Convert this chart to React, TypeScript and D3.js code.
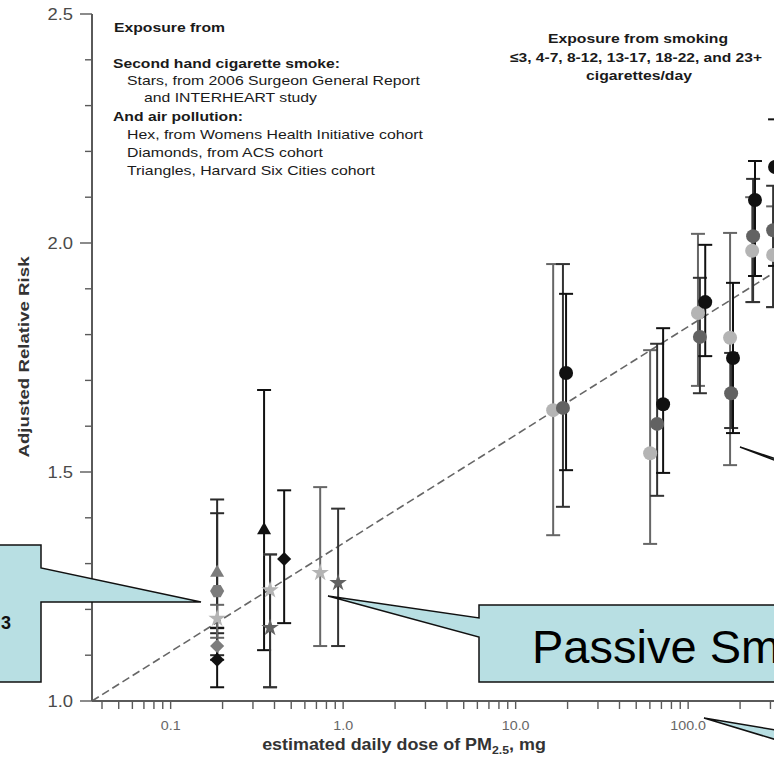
import React from 'react';
import * as d3 from 'd3';

// ---------------- data ----------------
const yTickValues = [1.0, 1.5, 2.0, 2.5];
const yTickLabels = ['1.0', '1.5', '2.0', '2.5'];
const xTickValues = [0.1, 1, 10, 100];
const xTickLabels = ['0.1', '1.0', '10.0', '100.0'];

// dashed fit line (endpoints)
const fitDose = [0.035, 1000];
const fitRR = [1.0, 2.054];

// active smoking (circles); study: black / dark / light
const smokeDose = [16.5, 18.8, 19.6, 60.2, 66.1, 71.6, 114, 117, 125.6, 175, 177.5, 182, 235, 238, 244, 311, 311, 319];
const smokeRR = [1.635, 1.64, 1.716, 1.541, 1.605, 1.648, 1.847, 1.795, 1.871, 1.793, 1.672, 1.749, 1.983, 2.015, 2.094, 1.974, 2.028, 2.166];
const smokeLo = [1.362, 1.424, 1.504, 1.343, 1.448, 1.498, 1.688, 1.672, 1.753, 1.515, 1.596, 1.585, 1.871, 1.871, 1.928, 1.86, 1.86, 1.95];
const smokeHi = [1.954, 1.954, 1.889, 1.766, 1.78, 1.814, 2.02, 1.924, 1.996, 2.022, 1.76, 1.913, 2.1, 2.14, 2.179, 2.08, 2.125, 2.27];
const smokeStudy = ['light', 'dark', 'black', 'light', 'dark', 'black', 'light', 'dark', 'black', 'light', 'dark', 'black', 'light', 'dark', 'black', 'light', 'dark', 'black'];

// second hand smoke (stars)
const starDose = [0.186, 0.377, 0.377, 0.736, 0.935];
const starRR = [1.18, 1.242, 1.16, 1.28, 1.258];
const starLo = [1.138, 1.03, 1.03, 1.12, 1.12];
const starHi = [1.21, 1.32, 1.32, 1.467, 1.42];
const starStudy = ['light', 'light', 'dark', 'light', 'dark'];

// air pollution: hex (WHI)
const hexDose = [0.186];
const hexRR = [1.24];
const hexLo = [1.09];
const hexHi = [1.41];
const hexStudy = ['mid'];

// air pollution: diamonds (ACS)
const diamondDose = [0.186, 0.186, 0.455];
const diamondRR = [1.12, 1.09, 1.31];
const diamondLo = [1.1, 1.03, 1.17];
const diamondHi = [1.148, 1.159, 1.46];
const diamondStudy = ['mid', 'black', 'black'];

// air pollution: triangles (Harvard Six Cities)
const triangleDose = [0.186, 0.348];
const triangleRR = [1.28, 1.373];
const triangleLo = [1.16, 1.111];
const triangleHi = [1.44, 1.679];
const triangleStudy = ['mid', 'black'];

const legendLines = [
  'Exposure from',
  'Second hand cigarette smoke:',
  'Stars, from 2006 Surgeon General Report',
  'and INTERHEART study',
  'And air pollution:',
  'Hex, from Womens Health Initiative cohort',
  'Diamonds, from ACS cohort',
  'Triangles, Harvard Six Cities cohort',
];
const smokingHeader = [
  'Exposure from smoking',
  '\u22643, 4-7, 8-12, 13-17, 18-22, and 23+',
  'cigarettes/day',
];

// ---------------- styles ----------------
const FONT = 'Liberation Sans, Arial, Helvetica, sans-serif';
const fillOf: Record<string, string> = { black: '#111', dark: '#626262', mid: '#7c7c7c', light: '#b4b4b4' };
const barOf: Record<string, string> = { black: '#111', dark: '#333', mid: '#2a2a2a', light: '#666' };
const CALLOUT = '#b8dfe3';

const legendLayout = [
  { x: 114, y: 32, w: 111, b: true },
  { x: 113, y: 68, w: 227, b: true },
  { x: 127, y: 85, w: 293, b: false },
  { x: 144, y: 102, w: 173, b: false },
  { x: 113, y: 121, w: 130, b: true },
  { x: 127, y: 139, w: 296, b: false },
  { x: 127, y: 157, w: 196, b: false },
  { x: 127, y: 175, w: 248, b: false },
];
const headerLayout = [
  { x: 638, y: 43, w: 180 },
  { x: 636, y: 62, w: 252 },
  { x: 639, y: 80, w: 106 },
];

const hexType = {
  draw(ctx: any, size: number) {
    const r = Math.sqrt(size / (1.5 * Math.sqrt(3)));
    for (let i = 0; i < 6; i++) {
      const a = (Math.PI / 3) * i;
      const px = r * Math.cos(a), py = r * Math.sin(a);
      if (i === 0) ctx.moveTo(px, py); else ctx.lineTo(px, py);
    }
    ctx.closePath();
  },
};

export default function App() {
  const x = d3.scaleLog().domain([0.035, 1000]).range([92, 92 + 172.5 * Math.log10(1000 / 0.035)]);
  const y = d3.scaleLinear().domain([1, 2.5]).range([701, 14]);

  const xMinor = x.ticks().filter((t) => t >= 0.039);
  const yMinor = d3.range(10, 26).map((v) => v / 10);

  const fitLine = d3.line<number>().x((d, i) => x(fitDose[i])).y((d, i) => y(fitRR[i]));

  const ErrorBar = ({ dose, lo, hi, color }: any) => {
    const cx = x(dose);
    return (
      <g stroke={color} strokeWidth={2}>
        <line x1={cx} x2={cx} y1={y(lo)} y2={y(hi)} />
        <line x1={cx - 7} x2={cx + 7} y1={y(lo)} y2={y(lo)} />
        <line x1={cx - 7} x2={cx + 7} y1={y(hi)} y2={y(hi)} />
      </g>
    );
  };

  const symStar = d3.symbol().type(d3.symbolStar).size(95)()!;
  const symTri = d3.symbol().type(d3.symbolTriangle).size(85)()!;
  const symSq = d3.symbol().type(d3.symbolSquare).size(100)()!;
  const symHex = d3.symbol().type(hexType as any).size(130)()!;

  const groups = [
    { dose: triangleDose, rr: triangleRR, lo: triangleLo, hi: triangleHi, st: triangleStudy, path: symTri, rot: 0 },
    { dose: hexDose, rr: hexRR, lo: hexLo, hi: hexHi, st: hexStudy, path: symHex, rot: 0 },
    { dose: diamondDose, rr: diamondRR, lo: diamondLo, hi: diamondHi, st: diamondStudy, path: symSq, rot: 45 },
    { dose: starDose, rr: starRR, lo: starLo, hi: starHi, st: starStudy, path: symStar, rot: 0 },
  ];

  return (
    <svg width={774} height={759} style={{ position: 'absolute', left: 0, top: 0, background: '#fff' }} fontFamily={FONT}>
      <rect x={0} y={0} width={774} height={759} fill="#fff" />

      {/* legend text */}
      {legendLines.map((t, i) => (
        <text key={'lg' + i} x={legendLayout[i].x} y={legendLayout[i].y} fontSize={13.5}
          fontWeight={legendLayout[i].b ? 'bold' : 'normal'} fill="#1a1a1a"
          textLength={legendLayout[i].w} lengthAdjust="spacingAndGlyphs">{t}</text>
      ))}
      {smokingHeader.map((t, i) => (
        <text key={'hd' + i} x={headerLayout[i].x} y={headerLayout[i].y} fontSize={13.5} fontWeight="bold"
          fill="#1a1a1a" textAnchor="middle" textLength={headerLayout[i].w} lengthAdjust="spacingAndGlyphs">{t}</text>
      ))}

      {/* fit line */}
      <path d={fitLine([0, 1])!} stroke="#666" strokeWidth={1.6} strokeDasharray="8,4" fill="none" />

      {/* smoking error bars and circles */}
      {smokeDose.map((d, i) => (
        <ErrorBar key={'sb' + i} dose={d} lo={smokeLo[i]} hi={smokeHi[i]} color={barOf[smokeStudy[i]]} />
      ))}
      {smokeDose.map((d, i) => (
        <circle key={'sc' + i} cx={x(d)} cy={y(smokeRR[i])} r={7} fill={fillOf[smokeStudy[i]]} />
      ))}

      {/* SHS + air pollution */}
      {groups.map((g, gi) =>
        g.dose.map((d, i) => (
          <ErrorBar key={'gb' + gi + '_' + i} dose={d} lo={g.lo[i]} hi={g.hi[i]} color={barOf[g.st[i]]} />
        ))
      )}
      {groups.map((g, gi) =>
        g.dose.map((d, i) => (
          <path key={'gs' + gi + '_' + i} d={g.path} fill={fillOf[g.st[i]]}
            transform={`translate(${x(d)},${y(g.rr[i])}) rotate(${g.rot})`} />
        ))
      )}

      {/* axes */}
      <g stroke="#5a5a5a" strokeWidth={2} fill="none">
        <line x1={92} x2={92} y1={y(2.5)} y2={y(1)} />
        <line x1={92} x2={900} y1={y(1)} y2={y(1)} />
        {yMinor.map((v, i) => (
          <line key={'ym' + i} x1={yTickValues.includes(v) ? 80 : 85} x2={92} y1={y(v)} y2={y(v)} strokeWidth={1.4} />
        ))}
        {xMinor.map((v, i) => (
          <line key={'xm' + i} x1={x(v)} x2={x(v)} y1={y(1)} y2={y(1) + 8} strokeWidth={1.4} />
        ))}
      </g>
      {yTickValues.map((v, i) => (
        <text key={'yl' + i} transform={`translate(73,${y(v) + 6}) scale(1.15,1)`} textAnchor="end"
          fontSize={16} fill="#4a4a4a">{yTickLabels[i]}</text>
      ))}
      {xTickValues.map((v, i) => (
        <text key={'xl' + i} transform={`translate(${x(v)},730) scale(1.1,1)`} textAnchor="middle"
          fontSize={13} fill="#666">{xTickLabels[i]}</text>
      ))}

      {/* axis titles */}
      <text transform="translate(29,357) rotate(-90)" textAnchor="middle" fontSize={15} fontWeight="bold" fill="#333"
        textLength={201} lengthAdjust="spacingAndGlyphs">Adjusted Relative Risk</text>
      <text transform="translate(404,750) scale(1.12,1)" textAnchor="middle" fontSize={16} fontWeight="bold" fill="#333">
        estimated daily dose of PM<tspan fontSize={11} dy={4}>2.5</tspan><tspan dy={-4}>, mg</tspan>
      </text>

      {/* callouts */}
      <path d="M -10,545 H 41 V 568 L 201,602 H 41 V 682 H -10 Z" fill={CALLOUT} stroke="#111" strokeWidth={1.5} />
      <text x={1} y={629} fontSize={18} fontWeight="bold" fill="#111">3</text>

      <path d="M 479,605 H 800 V 682 H 479 V 637 L 328,596 L 479,618 Z" fill={CALLOUT} stroke="#111" strokeWidth={1.5} />
      <text x={532} y={663} fontSize={47} fill="#000">Passive Smoking</text>

      <path d="M 740,447 L 800,467 L 800,470 Z" fill={CALLOUT} stroke="#111" strokeWidth={1.5} />
      <path d="M 704,718 L 800,734 L 800,747 Z" fill={CALLOUT} stroke="#111" strokeWidth={1.5} />
    </svg>
  );
}
